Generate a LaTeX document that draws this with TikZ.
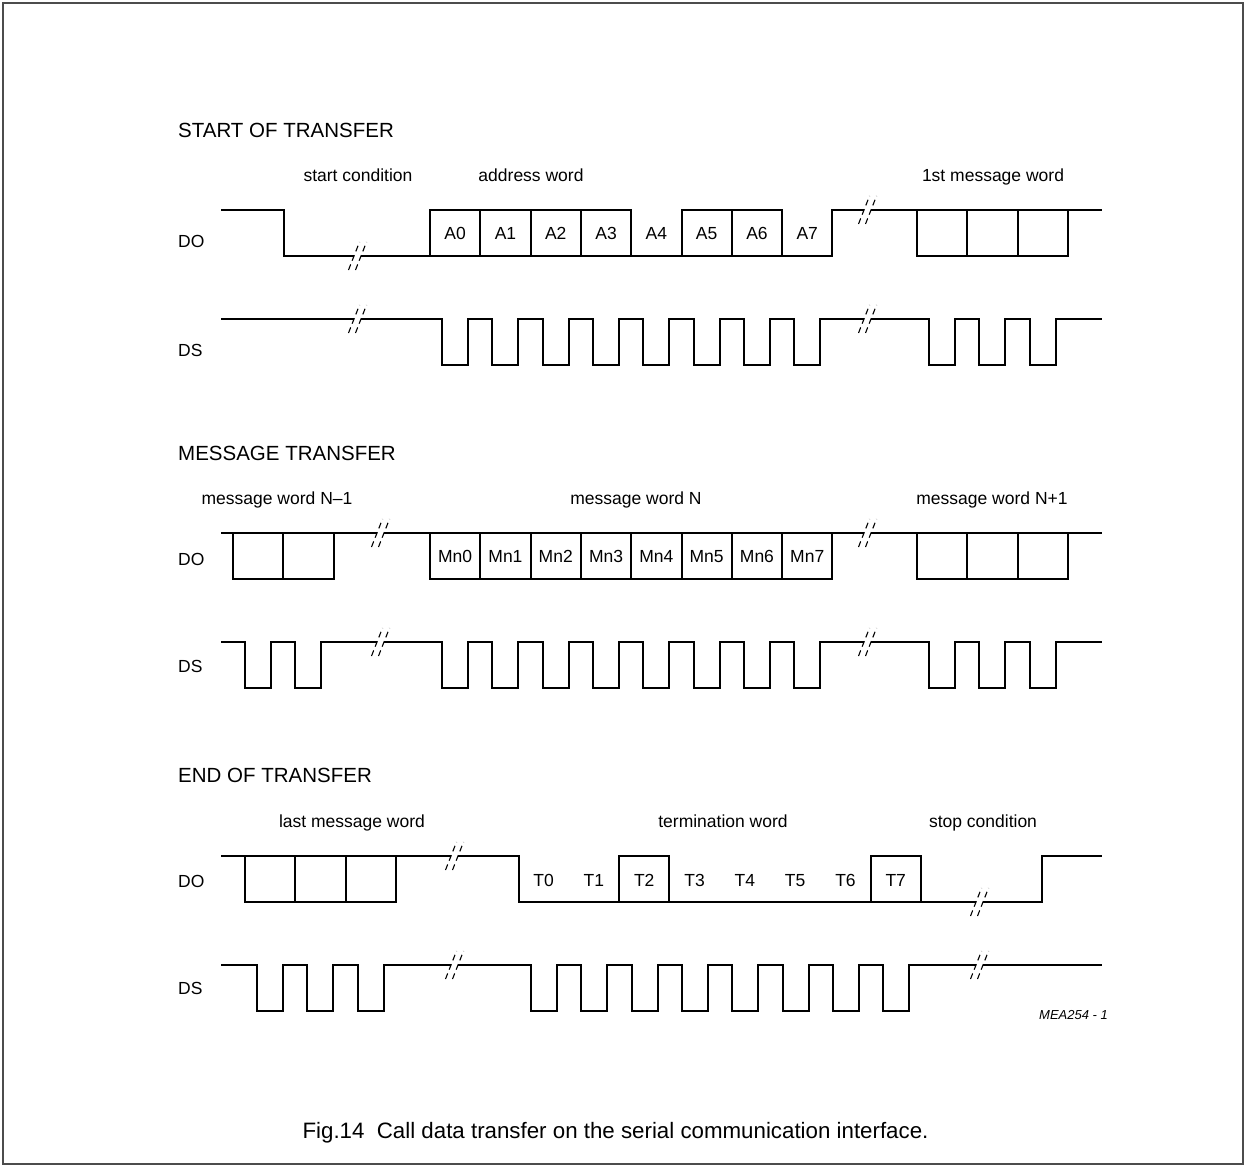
\documentclass[tikz,border=0pt]{standalone}
\usepackage{fontspec}
\setmainfont{Liberation Sans}
\newcommand\brkmark[2]{%
  \draw[brk] (#1-9.5,#2+14) -- (#1+1.5,#2-14);
  \draw[brk] (#1-2.5,#2+14) -- (#1+8.5,#2-14);}
\begin{document}
\begin{tikzpicture}[x=1pt,y=-1pt,
  wave/.style={line width=2pt},
  brk/.style={line width=1.1pt, dash pattern=on 6pt off 4pt},
  lbl/.style={font=\fontsize{17.5}{20}\selectfont, anchor=base, inner sep=0pt},
  ttl/.style={font=\fontsize{20.5}{24}\selectfont, anchor=base west, inner sep=0pt},
  sig/.style={font=\fontsize{17.5}{20}\selectfont, anchor=base west, inner sep=0pt},
  sep/.style={line width=2pt}]
\def\W{50.3}
\useasboundingbox (0,0) rectangle (1246,1167);
\draw[line width=1.5pt, black!70] (3,3) rectangle (1243,1164);

% ---------------- START OF TRANSFER ----------------
\node[ttl] (t1) at (178,137) {START OF TRANSFER};
\node[lbl] (l1a) at (358,181) {start condition};
\node[lbl] (l1b) at (531,181) {address word};
\node[lbl] (l1c) at (993,181) {1st message word};
\node[sig] (do1) at (178,247) {DO};
\node[sig] (ds1) at (178,356) {DS};

\draw[wave] (221,210) -- (284,210) -- (284,256) -- (354,256) (361,256) -- (430,256)
  -- (430,210) -- (631.2,210) -- (631.2,256) -- (681.5,256) -- (681.5,210) -- (782.1,210)
  -- (782.1,256) -- (832.4,256) -- (832.4,210) -- (864,210) (871,210) -- (1102,210);
\draw[wave] (430,256) -- (832.4,256);
\foreach \x in {480.3,530.6,580.9,731.8} \draw[sep] (\x,210) -- (\x,256);
\draw[wave] (917,210) rectangle (1067.9,256);
\foreach \x in {967.3,1017.6} \draw[sep] (\x,210) -- (\x,256);
\foreach \i in {0,...,7} \node[lbl] (a\i) at ({455.15+\W*\i},239) {A\i};

\draw[wave] (221,319) -- (354,319) (361,319)
  \foreach \k in {0,...,7}{ -- ({442+\W*\k},319) -- ({442+\W*\k},365) -- ({468+\W*\k},365) -- ({468+\W*\k},319)}
  -- (864,319) (871,319)
  \foreach \k in {0,1,2}{ -- ({929+\W*\k},319) -- ({929+\W*\k},365) -- ({955+\W*\k},365) -- ({955+\W*\k},319)}
  -- (1102,319);

\brkmark{358}{256}
\brkmark{868}{210}
\brkmark{358}{319}
\brkmark{868}{319}

% ---------------- MESSAGE TRANSFER ----------------
\node[ttl] (t2) at (178,460) {MESSAGE TRANSFER};
\node[lbl] (l2a) at (277,504) {message word N–1};
\node[lbl] (l2b) at (636,504) {message word N};
\node[lbl] (l2c) at (992,504) {message word N+1};
\node[sig] (do2) at (178,565) {DO};
\node[sig] (ds2) at (178,672) {DS};

\draw[wave] (221,533) -- (377,533) (384,533) -- (864,533) (871,533) -- (1102,533);
\draw[wave] (233,533) rectangle (333.6,579);
\draw[sep] (283.3,533) -- (283.3,579);
\draw[wave] (430,533) rectangle (832.4,579);
\foreach \x in {480.3,530.6,580.9,631.2,681.5,731.8,782.1} \draw[sep] (\x,533) -- (\x,579);
\draw[wave] (917,533) rectangle (1067.9,579);
\foreach \x in {967.3,1017.6} \draw[sep] (\x,533) -- (\x,579);
\foreach \i in {0,...,7} \node[lbl] (m\i) at ({455.15+\W*\i},562) {Mn\i};

\draw[wave] (221,642)
  \foreach \k in {0,1}{ -- ({245+\W*\k},642) -- ({245+\W*\k},688) -- ({271+\W*\k},688) -- ({271+\W*\k},642)}
  -- (377,642) (384,642)
  \foreach \k in {0,...,7}{ -- ({442+\W*\k},642) -- ({442+\W*\k},688) -- ({468+\W*\k},688) -- ({468+\W*\k},642)}
  -- (864,642) (871,642)
  \foreach \k in {0,1,2}{ -- ({929+\W*\k},642) -- ({929+\W*\k},688) -- ({955+\W*\k},688) -- ({955+\W*\k},642)}
  -- (1102,642);

\brkmark{381}{533}
\brkmark{868}{533}
\brkmark{381}{642}
\brkmark{868}{642}

% ---------------- END OF TRANSFER ----------------
\node[ttl] (t3) at (178,782) {END OF TRANSFER};
\node[lbl] (l3a) at (352,827) {last message word};
\node[lbl] (l3b) at (723,827) {termination word};
\node[lbl] (l3c) at (983,827) {stop condition};
\node[sig] (do3) at (178,887) {DO};
\node[sig] (ds3) at (178,994) {DS};

\draw[wave] (221,856) -- (451,856) (458,856) -- (518.5,856) -- (518.5,902) -- (619.1,902)
  -- (619.1,856) -- (669.4,856) -- (669.4,902) -- (870.6,902) -- (870.6,856) -- (920.9,856)
  -- (920.9,902) -- (976,902) (983,902) -- (1042,902) -- (1042,856) -- (1102,856);
\draw[wave] (619.1,902) -- (669.4,902);
\draw[wave] (870.6,902) -- (920.9,902);
\draw[wave] (245,856) rectangle (395.9,902);
\foreach \x in {295.3,345.6} \draw[sep] (\x,856) -- (\x,902);
\foreach \i in {0,...,7} \node[lbl] (tw\i) at ({543.65+\W*\i},886) {T\i};

\draw[wave] (221,965)
  \foreach \k in {0,1,2}{ -- ({257+\W*\k},965) -- ({257+\W*\k},1011) -- ({283+\W*\k},1011) -- ({283+\W*\k},965)}
  -- (451,965) (458,965)
  \foreach \k in {0,...,7}{ -- ({531+\W*\k},965) -- ({531+\W*\k},1011) -- ({557+\W*\k},1011) -- ({557+\W*\k},965)}
  -- (976,965) (983,965) -- (1102,965);

\brkmark{455}{856}
\brkmark{455}{965}
\brkmark{980}{902}
\brkmark{980}{965}

\node[font=\fontsize{13}{15}\selectfont\itshape, anchor=base east, inner sep=0pt] (ref) at (1108,1019) {MEA254 - 1};
\node[font=\fontsize{22.3}{26}\selectfont, anchor=base, inner sep=0pt] (cap) at (615.5,1138) {Fig.14\ \ Call data transfer on the serial communication interface.};
\end{tikzpicture}
\end{document}
